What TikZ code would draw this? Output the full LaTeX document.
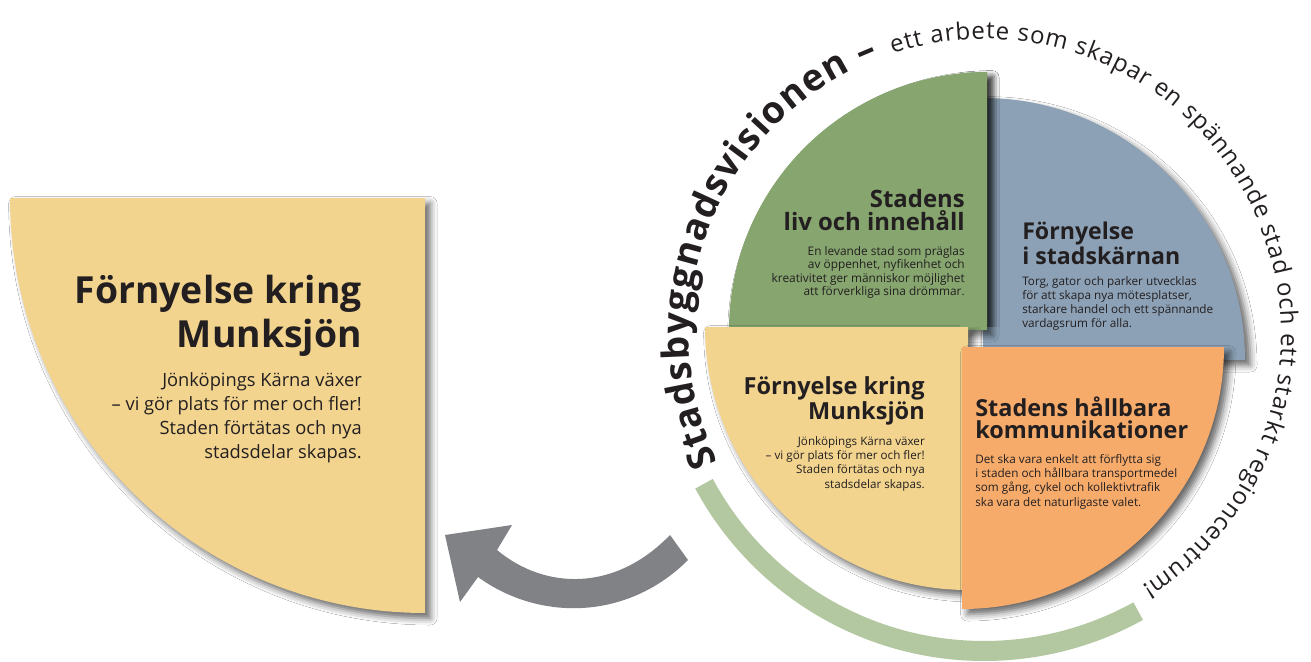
\documentclass[tikz,border=0pt]{standalone}
\usepackage{fontspec}
\setmainfont{Open Sans}
\usetikzlibrary{shadows.blur,decorations.text}
\definecolor{cgreen}{HTML}{86A56F}
\definecolor{cblue}{HTML}{8CA1B6}
\definecolor{cyellow}{HTML}{F2D48F}
\definecolor{corange}{HTML}{F6AB6B}
\definecolor{cring}{HTML}{B3C8A0}
\definecolor{carrow}{HTML}{808285}
\definecolor{ctext}{HTML}{231F20}
\newlength\mylen
% #1 macro, #2 font switch, #3 sample line, #4 target width in px
\newcommand\fitfont[4]{%
  \settowidth\mylen{#2\fontsize{10}{12}\selectfont #3}%
  \pgfmathsetmacro#1{10*#4*0.75/\mylen}}
\begin{document}
\fitfont\szGt{\bfseries}{liv och innehåll}{181}%
\fitfont\szGb{}{kreativitet ger människor möjlighet}{193}%
\fitfont\szBt{\bfseries}{i stadskärnan}{158}%
\fitfont\szBb{}{starkare handel och ett spännande}{191}%
\fitfont\szYt{\bfseries}{Förnyelse kring}{181}%
\fitfont\szYb{}{– vi gör plats för mer och fler!}{159}%
\fitfont\szOt{\bfseries}{kommunikationer}{213}%
\fitfont\szOb{}{i staden och hållbara transportmedel}{202}%
\fitfont\szLt{\bfseries}{Förnyelse kring}{287}%
\fitfont\szLb{}{– vi gör plats för mer och fler!}{250}%
\begin{tikzpicture}[x=0.75pt,y=-0.75pt,
  piece/.style={blur shadow={shadow xshift=4pt,shadow yshift=-4pt,shadow blur radius=5pt,shadow opacity=60}},
  txt/.style={text=ctext, inner sep=0pt}]
\useasboundingbox[fill=white] (0,0) rectangle (1311,661);

% left big quarter
\path[piece, fill=cyellow] (425,198) -- ++(-415,0) arc[start angle=180, end angle=90, radius=415] -- cycle;

% ring
\draw[cring, line width=15pt] (984,333) ++(151.7:318) arc[start angle=151.7, end angle=61, radius=318];

% pie pieces
\path[piece, fill=cblue] (983,360) -- ++(0,-262) arc[start angle=-90, end angle=0, radius=262] -- cycle;
\path[piece, fill=cgreen] (987,330) -- ++(0,-258) arc[start angle=-90, end angle=-180, radius=258] -- cycle;
\path[piece, fill=cyellow] (968,327) -- ++(-263,0) arc[start angle=180, end angle=90, radius=263] -- cycle;
\path[piece, fill=corange] (962,347) -- ++(262,0) arc[start angle=0, end angle=90, radius=262] -- cycle;
\begin{scope}
\clip (960,50) rectangle (1030,326);
\path[piece, fill=cgreen] (987,330) -- ++(0,-258) arc[start angle=-90, end angle=-180, radius=258] -- cycle;
\end{scope}

% arrow
\fill[carrow] (497,550) .. controls (545,590) and (615,592) .. (670,535) -- (688,560) .. controls (628,620) and (540,622) .. (478,577) -- (460,602) -- (445,535) -- (512,525) -- cycle;

% circular text
\path[decorate, decoration={text along path, text color=ctext,
  text={|\bfseries\fontsize{28}{28}\selectfont|Stadsbyggnadsvisionen –},
  text align={fit to path}}]
  (985,335) ++(154.5:296) arc[start angle=154.5, end angle=249, radius=296];
\path[decorate, decoration={text along path, text color=ctext,
  text={|\fontsize{18}{18}\selectfont|ett arbete som skapar en spännande stad och ett starkt regioncentrum!},
  text align={fit to path}}]
  (985,335) ++(251.8:296) arc[start angle=251.8, end angle=418, radius=296];

% texts (anchor = baseline of the last line)
\node[txt, font=\bfseries\fontsize{\szLt}{33}\selectfont, anchor=base east, align=right] (lt) at (362,347) {Förnyelse kring\\Munksjön};
\node[txt, font=\fontsize{\szLb}{17.8}\selectfont, anchor=base east, align=right] (lb) at (362,458) {Jönköpings Kärna växer\\– vi gör plats för mer och fler!\\Staden förtätas och nya\\stadsdelar skapas.};

\node[txt, font=\bfseries\fontsize{\szGt}{17.25}\selectfont, anchor=base east, align=right] (gt) at (965,230) {Stadens\\liv och innehåll};
\node[txt, font=\fontsize{\szGb}{10.1}\selectfont, anchor=base east, align=right] (gb) at (965,295.5) {En levande stad som präglas\\av öppenhet, nyfikenhet och\\kreativitet ger människor möjlighet\\att förverkliga sina drömmar.};

\node[txt, font=\bfseries\fontsize{\szBt}{17.25}\selectfont, anchor=base west, align=left] (bt) at (1022,264) {Förnyelse\\i stadskärnan};
\node[txt, font=\fontsize{\szBb}{10.3}\selectfont, anchor=base west, align=left] (bb) at (1022,327) {Torg, gator och parker utvecklas\\för att skapa nya mötesplatser,\\starkare handel och ett spännande\\vardagsrum för alla.};

\node[txt, font=\bfseries\fontsize{\szYt}{16.9}\selectfont, anchor=base east, align=right] (yt) at (925,419) {Förnyelse kring\\Munksjön};
\node[txt, font=\fontsize{\szYb}{10.7}\selectfont, anchor=base east, align=right] (yb) at (925,488) {Jönköpings Kärna växer\\– vi gör plats för mer och fler!\\Staden förtätas och nya\\stadsdelar skapas.};

\node[txt, font=\bfseries\fontsize{\szOt}{15.9}\selectfont, anchor=base west, align=left] (ot) at (975,438) {Stadens hållbara\\kommunikationer};
\node[txt, font=\fontsize{\szOb}{10.7}\selectfont, anchor=base west, align=left] (ob) at (975,506) {Det ska vara enkelt att förflytta sig\\i staden och hållbara transportmedel\\som gång, cykel och kollektivtrafik\\ska vara det naturligaste valet.};
\end{tikzpicture}
\end{document}
